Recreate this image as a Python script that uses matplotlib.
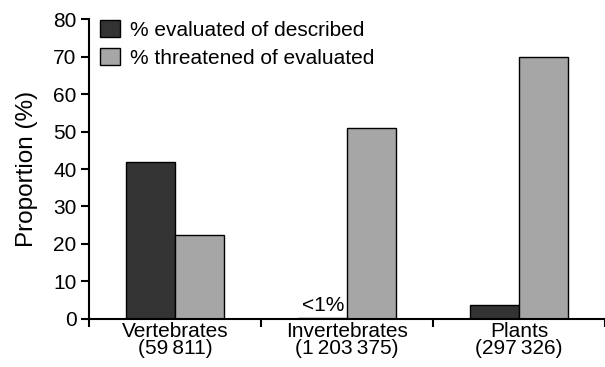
import numpy as np
import matplotlib
matplotlib.use("Agg")
import matplotlib.pyplot as plt

# data
groups = ["Vertebrates\n(59\u2009811)", "Invertebrates\n(1\u2009203\u2009375)", "Plants\n(297\u2009326)"]
evaluated = [42.0, 0.3, 3.6]
threatened = [22.5, 51.0, 70.0]
series_names = ["% evaluated of described", "% threatened of evaluated"]

plt.rcParams['font.family'] = ['Liberation Sans', 'DejaVu Sans']

fig = plt.figure(figsize=(6.05, 3.67), dpi=100)
ax = fig.add_axes([0.147, 0.131, 0.853, 0.817])

x = np.arange(len(groups)) + 0.5
w = 0.285
ax.bar(x - w / 2, evaluated, w, color="#333333", edgecolor="black", linewidth=1, label=series_names[0])
ax.bar(x + w / 2, threatened, w, color="#a6a6a6", edgecolor="black", linewidth=1, label=series_names[1])

ax.text(x[1] - 0.015, 1.0, "<1%", ha="right", va="bottom", fontsize=15)

ax.set_xlim(0, 3)
ax.set_ylim(0, 80)
ax.set_yticks(range(0, 81, 10))
ax.set_xticks([0, 1, 2, 3])
ax.set_xticklabels([])
ax.set_xticks(x, minor=True)
ax.set_xticklabels(groups, minor=True, fontsize=15, linespacing=0.9)
ax.tick_params(axis="x", which="minor", length=0, pad=2)
ax.tick_params(axis="x", which="major", length=6, width=1.5, direction="out")
ax.tick_params(axis="y", length=6, width=1.5, labelsize=15, pad=3)
ax.set_ylabel("Proportion (%)", fontsize=17.5, labelpad=11)

for s in ["top", "right"]:
    ax.spines[s].set_visible(False)
for s in ["left", "bottom"]:
    ax.spines[s].set_linewidth(1.5)

ax.legend(loc="upper left", frameon=False, fontsize=15, handlelength=0.95, handleheight=0.85,
          handletextpad=0.5, labelspacing=0.42, borderaxespad=0, borderpad=0,
          bbox_to_anchor=(0.022, 0.997))

fig.savefig("out.png", dpi=100)
